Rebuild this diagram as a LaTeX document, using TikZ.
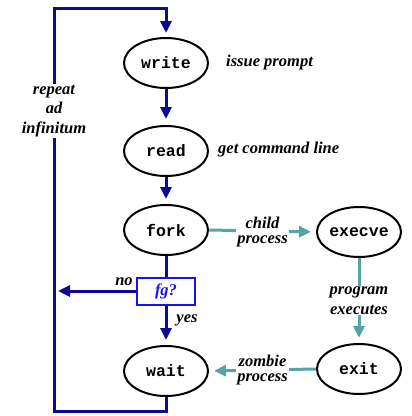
\documentclass[tikz,border=0pt]{standalone}
\usepackage{fontspec}
\setmainfont{Liberation Serif}
\newfontfamily\codefont{Liberation Mono}
\usetikzlibrary{arrows.meta,shapes.geometric}
\definecolor{navy}{RGB}{10,10,150}
\definecolor{tealc}{RGB}{85,165,165}
\definecolor{fgblue}{RGB}{20,20,240}
\begin{document}
\begin{tikzpicture}[x=1pt,y=-1pt,
 proc/.style={ellipse,draw=black,line width=2pt,minimum width=84pt,minimum height=50pt,inner sep=0pt,font=\codefont\bfseries\fontsize{16.5}{19}\selectfont},
 lbl/.style={font=\bfseries\itshape\fontsize{16.5}{19.5}\selectfont,align=center,inner sep=1pt},
 mainline/.style={draw=navy,line width=3pt},
 sideline/.style={draw=tealc,line width=3pt},
 tipn/.style={-{Triangle[length=12pt,width=11pt]}},
 decbox/.style={draw=fgblue,line width=2pt,minimum width=58pt,minimum height=27pt,inner sep=0pt,text=fgblue,font=\bfseries\itshape\fontsize{16.5}{19.5}\selectfont}
]
\useasboundingbox (0,0) rectangle (412,416);
\node[proc] (write) at (166,63) {write};
\node[proc] (read) at (166,151) {read};
\node[proc] (fork) at (166,230) {fork};
\node[decbox] (fg) at (166,291) {fg?};
\node[proc] (wait) at (166,371) {wait};
\node[proc] (execve) at (359,232) {execve};
\node[proc] (exit) at (359,369) {exit};
\coordinate (bl) at (54,411);
\coordinate (tl) at (54,8);
\coordinate (noend) at (58,291);

% main loop
\draw[mainline,tipn,shorten >=4pt] (wait.south) |- (bl) -- (tl) -| (write.north);
\node[lbl,fill=white] (rep) at (54,111) {repeat\\ad\\infinitum};
\draw[mainline,tipn,shorten >=6pt] (write.south) -- (read.north);
\draw[mainline,tipn,shorten >=5pt] (read.south) -- (fork.north);
\draw[mainline] (fork.south) -- (fg.north);
\draw[mainline,tipn,shorten >=5pt] (fg.south) -- (wait.north);
\draw[mainline,tipn] (fg.west) -- (noend);
\node[lbl] (no) at (124,282) {no};
\node[lbl] (yes) at (187,320) {yes};

% side labels
\node[lbl,anchor=west] (issue) at (225,63) {issue prompt};
\node[lbl,anchor=west] (getcmd) at (217,150) {get command line};

% child path
\draw[sideline,tipn,shorten >=5pt] (fork.east) -- (execve.west)
  node[lbl,fill=white,midway,yshift=-1pt] (child) {child\\[-4pt]process};
\draw[sideline,tipn,shorten >=5pt] (execve.south) -- (exit.north)
  node[lbl,fill=white,midway] (prog) {program\\executes};
\draw[sideline,tipn,shorten >=5pt] (exit.west) -- (wait.east)
  node[lbl,fill=white,midway] (zomb) {zombie\\[-4pt]process};
\end{tikzpicture}
\end{document}
